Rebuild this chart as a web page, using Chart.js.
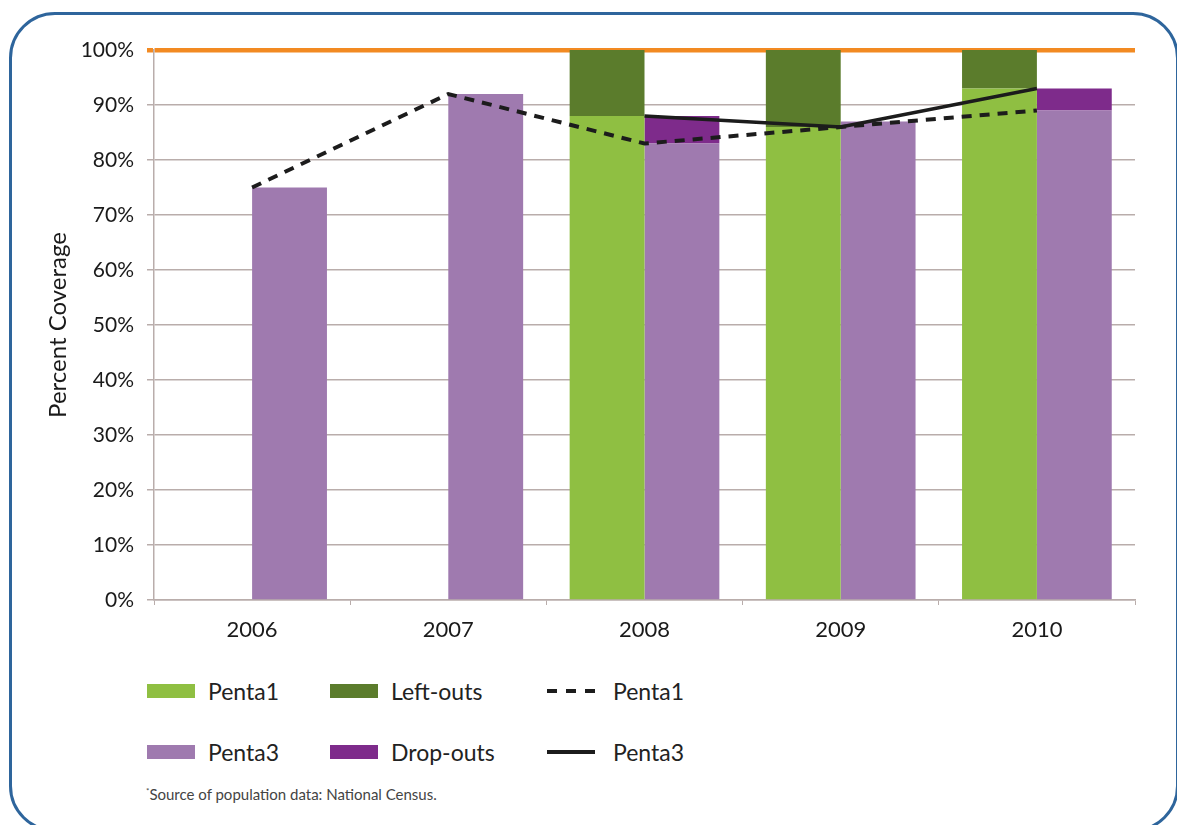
<!DOCTYPE html>
<html>
<head>
<meta charset="utf-8">
<script src="https://cdn.jsdelivr.net/npm/chart.js@4"></script>
<style>
    html, body { margin: 0; padding: 0; background: #fff; }
    body { width: 1177px; height: 825px; position: relative; overflow: hidden; font-family: Lato, "Open Sans", sans-serif; }
    #frame { position: absolute; left: 9px; top: 12px; width: 1170px; height: 820px; border: 3px solid #2e659c; border-radius: 46px; box-sizing: border-box; }
    #wrap { position: absolute; left: 0; top: 0; width: 1177px; height: 660px; }
    #legend { position: absolute; left: 0; top: 0; }
    .item { position: absolute; display: flex; align-items: center; font-size: 23px; color: #222; white-space: nowrap; line-height: 24px; }
    .swatch { width: 48px; height: 14px; margin-right: 13px; }
    #note { position: absolute; left: 146px; top: 785px; font-size: 15px; color: #444; }
    #note sup { font-size: 8px; }
</style>
</head>
<body>
<div id="frame"></div>
<div id="wrap"><canvas id="chart"></canvas></div>
<div id="legend"></div>
<div id="note"><sup>*</sup>Source of population data: National Census.</div>
<script>
(() => {
    const years = ["2006", "2007", "2008", "2009", "2010"];
    const penta1Bars = [null, null, 88, 86, 93];
    const leftOuts = [null, null, 12, 14, 7];
    const penta3Bars = [75, 92, 83, 87, 89];
    const dropOuts = [null, null, 5, null, 4];
    const penta1Line = [75, 92, 83, 86, 89];
    const penta3Line = [null, null, 88, 86, 93];
    const yTicks = [0, 10, 20, 30, 40, 50, 60, 70, 80, 90, 100];

    const $ = query => document.querySelector(query);
    const grid = "#b9adab";
    const font = "Lato, 'Open Sans', sans-serif";

    const datasets = [{
        label: "Penta1", data: penta1Bars, stack: "p1", order: 1,
        backgroundColor: "#8fbf42"
    }, {
        label: "Left-outs", data: leftOuts, stack: "p1", order: 1,
        backgroundColor: "#5b7c2c"
    }, {
        type: "line", label: "Penta1", data: penta1Line, stack: "l1", order: 0,
        borderColor: "#1c1c1c", borderWidth: 4, borderDash: [10, 8], pointRadius: 0, legendDash: true
    }, {
        label: "Penta3", data: penta3Bars, stack: "p3", order: 1,
        backgroundColor: "#9f7aaf"
    }, {
        label: "Drop-outs", data: dropOuts, stack: "p3", order: 1,
        backgroundColor: "#7e2b8b"
    }, {
        type: "line", label: "Penta3", data: penta3Line, stack: "l2", order: 0,
        borderColor: "#1c1c1c", borderWidth: 3.5, pointRadius: 0
    }];

    new Chart($("#chart"), {
        type: "bar",
        data: { labels: years, datasets: datasets },
        options: {
            responsive: true,
            maintainAspectRatio: false,
            animation: false,
            datasets: { bar: { categoryPercentage: 0.763, barPercentage: 1 } },
            layout: { padding: { left: 40, right: 42, top: 50, bottom: 15 } },
            plugins: { legend: { display: false }, tooltip: { enabled: false } },
            scales: {
                x: {
                    stacked: true,
                    grid: { drawOnChartArea: false, color: grid, tickLength: 5 },
                    border: { color: grid, width: 1.5 },
                    ticks: { color: "#1a1a1a", font: { family: font, size: 22 }, padding: 12 },
                    afterFit: scale => { scale.height = 45; }
                },
                y: {
                    stacked: true,
                    min: 0, max: 100,
                    afterBuildTicks: scale => { scale.ticks = yTicks.map(v => ({ value: v })); },
                    grid: {
                        color: c => c.tick && c.tick.value === 100 ? "#f28a22" : grid,
                        lineWidth: c => c.tick && c.tick.value === 100 ? 4.5 : 1.5,
                        tickLength: 7
                    },
                    border: { color: grid, width: 1.5 },
                    ticks: {
                        color: "#1a1a1a", font: { family: font, size: 21 }, padding: 13,
                        callback: v => v + "%"
                    },
                    title: { display: true, text: "Percent Coverage", color: "#1a1a1a", font: { family: font, size: 24 }, padding: { top: 4, bottom: 0 } },
                    afterFit: scale => { scale.width = 114; }
                }
            }
        }
    });

    // legend laid out as in the source: 3 columns, 2 rows
    const cols = [147, 330, 547];
    const rows = [691, 752];
    const slots = [[0, 0], [1, 0], [2, 0], [0, 1], [1, 1], [2, 1]];
    datasets.forEach((ds, i) => {
        const [c, r] = slots[i];
        const el = document.createElement("div");
        el.className = "item";
        el.style.left = cols[c] + "px";
        el.style.top = (rows[r] - 12) + "px";
        const sw = document.createElement("span");
        sw.className = "swatch";
        if (ds.type === "line") {
            sw.style.height = "4px";
            sw.style.margin = "5px 18px 5px 0";
            sw.style.background = ds.legendDash
                ? "repeating-linear-gradient(to right, #1c1c1c 0 10px, transparent 10px 19px)"
                : "#1c1c1c";
        } else {
            sw.style.background = ds.backgroundColor;
        }
        el.appendChild(sw);
        el.appendChild(document.createTextNode(ds.label));
        $("#legend").appendChild(el);
    });
})();
</script>
</body>
</html>
